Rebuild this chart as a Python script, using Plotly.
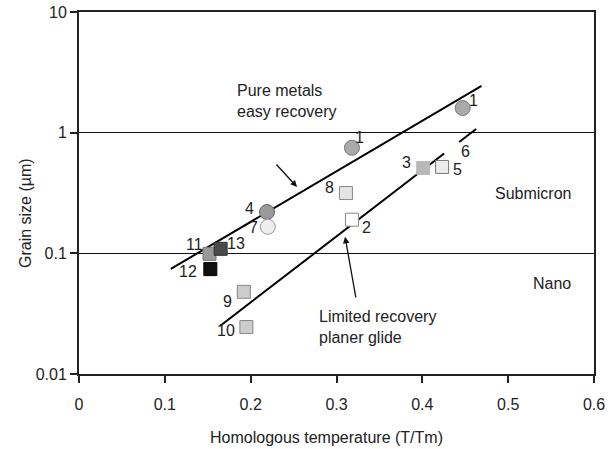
import math
import plotly.graph_objects as go

# ---------------- data ----------------
labels = ["1", "1", "3", "5", "8", "2", "4", "7", "11", "13", "12", "9", "10"]
temp   = [0.447, 0.318, 0.401, 0.423, 0.311, 0.318, 0.219, 0.220, 0.152, 0.165, 0.153, 0.192, 0.195]
grain  = [1.60, 0.75, 0.51, 0.52, 0.316, 0.19, 0.22, 0.166, 0.099, 0.109, 0.074, 0.048, 0.0245]
shapes_ = ["circle", "circle", "square", "square", "square", "square", "circle", "circle",
           "square", "square", "square", "square", "square"]
fills  = ["#aaaaaa", "#aaaaaa", "#b8b8b8", "#ececec", "#e4e4e4", "#ffffff", "#999999", "#eeeeee",
          "#999999", "#4a4a4a", "#111111", "#cccccc", "#cccccc"]
edges  = ["#777777", "#777777", "#b8b8b8", "#777777", "#888888", "#888888", "#666666", "#999999",
          "#777777", "#333333", "#000000", "#888888", "#888888"]
# label offsets (px, right / up)
lab_dx = [11, 8, -17, 15, -16, 15, -17, -14, -15, 15, -22, -16, -20]
lab_dy = [8, 10, 5, -3, 6, -8, 4, -1, 9, 5, -2, -10, -3]

# fitted trend lines (endpoints)
pure_x = [0.107, 0.469]
pure_y = [0.0743, 2.44]
lim_x1 = [0.1643, 0.4254]
lim_y1 = [0.025, 0.671]
lim_x2 = [0.4429, 0.4627]
lim_y2 = [0.837, 1.073]

x_ticks = [0, 0.1, 0.2, 0.3, 0.4, 0.5, 0.6]
x_ticktext = ["0", "0.1", "0.2", "0.3", "0.4", "0.5", "0.6"]
y_ticks = [0.01, 0.1, 1, 10]
y_ticktext = ["0.01", "0.1", "1", "10"]

FONT = "Liberation Sans, Arial, sans-serif"
TXT = "#222222"
FS = 16

fig = go.Figure()

for xs, ys in [(pure_x, pure_y), (lim_x1, lim_y1), (lim_x2, lim_y2)]:
    fig.add_trace(go.Scatter(x=xs, y=ys, mode="lines",
                             line=dict(color="black", width=2), hoverinfo="skip"))

fig.add_trace(go.Scatter(
    x=temp, y=grain, mode="markers",
    marker=dict(symbol=shapes_, color=fills, opacity=1,
                size=[15 if s == "circle" else 13 for s in shapes_],
                line=dict(color=edges, width=1)),
))

annotations = []
for lx, gx, gy, dx, dy in zip(labels, temp, grain, lab_dx, lab_dy):
    annotations.append(dict(x=gx, y=math.log10(gy), xref="x", yref="y", text=lx, showarrow=False,
                            xshift=dx, yshift=dy, font=dict(family=FONT, size=FS, color=TXT)))

# "6" label next to line segment
annotations.append(dict(x=0.450, y=math.log10(0.70), text="6", showarrow=False,
                        font=dict(family=FONT, size=FS, color=TXT)))

# arrows
annotations.append(dict(x=0.254, y=math.log10(0.355), ax=-22, ay=-24, text="", showarrow=True,
                        arrowhead=2, arrowsize=1, arrowwidth=1.3, arrowcolor="#111"))
annotations.append(dict(x=0.310, y=math.log10(0.137), ax=11, ay=62, text="", showarrow=True,
                        arrowhead=2, arrowsize=1, arrowwidth=1.3, arrowcolor="#111"))

# text annotations
annotations.append(dict(x=0.1818, y=math.log10(1.83), xanchor="left", align="left",
                        text="Pure metals<br>easy recovery", showarrow=False,
                        font=dict(family=FONT, size=FS, color=TXT)))
annotations.append(dict(x=0.2774, y=math.log10(0.0245), xanchor="left", align="left",
                        text="Limited recovery<br>planer glide", showarrow=False,
                        font=dict(family=FONT, size=FS, color=TXT)))
annotations.append(dict(x=0.529, y=math.log10(0.315), text="Submicron", showarrow=False,
                        font=dict(family=FONT, size=FS, color=TXT)))
annotations.append(dict(x=0.551, y=math.log10(0.056), text="Nano", showarrow=False,
                        font=dict(family=FONT, size=FS, color=TXT)))

# axis titles
annotations.append(dict(x=(326 - 79) / 515, y=-(437 - 374) / 362, xref="paper", yref="paper",
                        xanchor="center", yanchor="middle",
                        text="Homologous temperature (T/Tm)", showarrow=False,
                        font=dict(family=FONT, size=FS, color=TXT)))
annotations.append(dict(x=-(79 - 25) / 515, y=(374 - 213) / 362, xref="paper", yref="paper",
                        xanchor="center", yanchor="middle",
                        text="Grain size (µm)", showarrow=False, textangle=-90,
                        font=dict(family=FONT, size=FS, color=TXT)))

fig.update_layout(
    width=616, height=449,
    margin=dict(l=79, r=22, t=12, b=75, autoexpand=False),
    paper_bgcolor="white", plot_bgcolor="white",
    showlegend=False,
    annotations=annotations,
    font=dict(family=FONT, size=FS, color=TXT),
)
fig.update_xaxes(range=[0, 0.6], tickvals=x_ticks, ticktext=x_ticktext, automargin=False,
                 showline=True, linecolor="#222", linewidth=2, mirror=True,
                 ticks="outside", ticklen=7, tickwidth=2, tickcolor="#222",
                 showgrid=False, zeroline=False, ticklabelstandoff=8,
                 tickfont=dict(family=FONT, size=FS, color=TXT))
fig.update_yaxes(type="log", range=[-2, 1], tickvals=y_ticks, ticktext=y_ticktext, automargin=False,
                 showline=True, linecolor="#222", linewidth=2, mirror=True,
                 ticks="outside", ticklen=7, tickwidth=2, tickcolor="#222",
                 showgrid=True, gridcolor="#111", gridwidth=1.2, zeroline=False,
                 tickfont=dict(family=FONT, size=FS, color=TXT))

fig.write_html("out.html")
